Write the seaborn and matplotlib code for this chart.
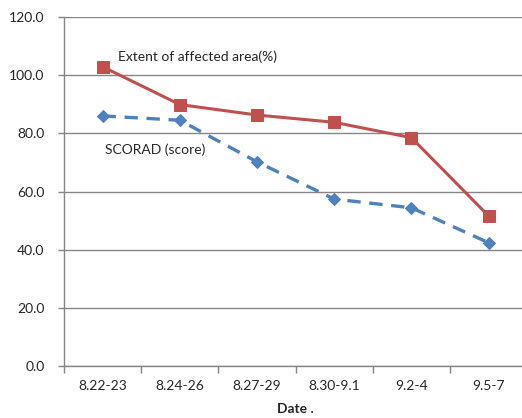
import numpy as np
import pandas as pd
import matplotlib
matplotlib.use("Agg")
import matplotlib.pyplot as plt
import seaborn as sns

# values
dates = ['8.22-23', '8.24-26', '8.27-29', '8.30-9.1', '9.2-4', '9.5-7']
affected_area = [102.9, 89.9, 86.3, 83.8, 78.5, 51.6]
scorad = [86.0, 84.5, 70.2, 57.4, 54.4, 42.4]

df = pd.DataFrame({'Date': dates, 'Area': affected_area, 'SCORAD': scorad})

sns.set_style('white')
plt.rcParams['font.family'] = ['Lato', 'DejaVu Sans']

red = '#C0504D'
blue = '#4F81BD'
grid_c = '#868686'
fs = 10

fig = plt.figure(figsize=(5.22, 4.18), dpi=100)
ax = fig.add_axes([0.1226, 0.1244, 0.8874, 0.8349])

sns.lineplot(data=df, x='Date', y='SCORAD', ax=ax, sort=False, color=blue,
             linewidth=2.4, linestyle='--', dashes=False, marker='D',
             markersize=6, markeredgecolor=blue)
ax.lines[-1].set_dashes([4, 2.6])
sns.lineplot(data=df, x='Date', y='Area', ax=ax, sort=False, color=red,
             linewidth=2.2, marker='s', markersize=8, markeredgecolor=red)

ax.set_xlim(-0.5, len(dates) - 0.5)
ax.set_ylim(0, 120)
ax.set_yticks(np.arange(0, 121, 20))
ax.set_yticklabels([f'{v:.1f}' for v in np.arange(0, 121, 20)])
ax.set_xticks(range(len(dates)))
ax.set_xticklabels(dates)
ax.set_xticks(np.arange(-0.5, len(dates)), minor=True)
ax.tick_params(axis='x', which='major', length=0, pad=10, labelsize=fs)
ax.tick_params(axis='x', which='minor', length=5, width=1, color=grid_c, bottom=True)
ax.tick_params(axis='y', length=4, width=1, color=grid_c, pad=10, labelsize=fs, left=True)

ax.yaxis.grid(True, color=grid_c, linewidth=1)
ax.set_axisbelow(True)
for s in ['top', 'right']:
    ax.spines[s].set_visible(False)
for s in ['left', 'bottom']:
    ax.spines[s].set_color(grid_c)
    ax.spines[s].set_linewidth(1)

ax.set_ylabel('')
ax.set_xlabel('Date .', fontweight='bold', fontsize=fs, labelpad=8)

ax.text(0.2, 106.5, 'Extent of affected area(%)', fontsize=fs, va='center')
ax.text(0.03, 74.5, 'SCORAD (score)', fontsize=fs, va='center')

fig.savefig('out.png', dpi=100)
